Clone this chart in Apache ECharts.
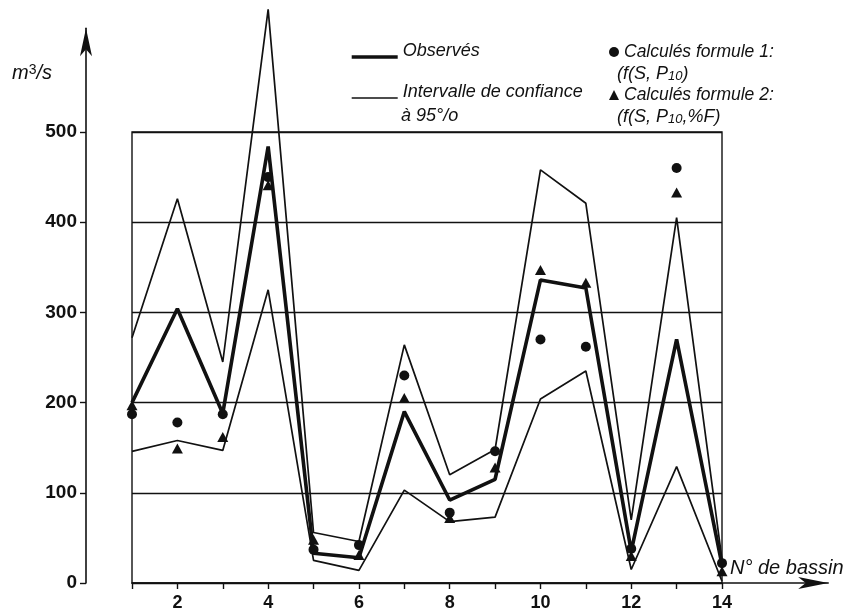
<!DOCTYPE html>
<html>
<head>
<meta charset="utf-8">
<script src="https://cdn.jsdelivr.net/npm/echarts@6.0.0/dist/echarts.min.js"></script>
<style>
  html, body { margin: 0; padding: 0; background: #fff; }
  #chart { width: 850px; height: 612px; }
</style>
</head>
<body>
<div id="chart"></div>
<script>
// Débits par bassin (m3/s)
const basins     = [1, 2, 3, 4, 5, 6, 7, 8, 9, 10, 11, 12, 13, 14];
const observed   = [200, 304, 188, 484, 33, 28, 190, 92, 115, 336, 327, 35, 270, 20];
const upperCI    = [272, 426, 245, 636, 56, 46, 264, 120, 148, 458, 421, 70, 405, 26];
const lowerCI    = [146, 158, 147, 325, 25, 14, 103, 68, 73, 204, 235, 15, 129, 2];
const formula1   = [187, 178, 187, 450, 37, 42, 230, 78, 146, 270, 262, 38, 460, 22];
const formula2   = [197, 149, 162, 441, 48, 31, 205, 72, 128, 347, 333, 30, 433, 13];

const xTickValues  = [1, 2, 3, 4, 5, 6, 7, 8, 9, 10, 11, 12, 13, 14];
const xLabelValues = [2, 4, 6, 8, 10, 12, 14];
const yLabelValues = [0, 100, 200, 300, 400, 500];

const ink = '#111';
const font = "'Liberation Sans', Arial, Helvetica, sans-serif";
const pairs = v => basins.map((b, i) => [b, v[i]]);

// plot frame: x 1..14, y 0..500
const frame = { left: 132, top: 132, width: 590, height: 451 };
// axes with arrows share the same scale but reach further
const pxPerX = frame.width / 13;
const pxPerY = frame.height / 500;
const axesMaxX = 16.34, axesMaxY = 615;
const axesBox = {
  left: frame.left,
  width: pxPerX * (axesMaxX - 1),
  height: pxPerY * axesMaxY,
  top: frame.top + frame.height - pxPerY * axesMaxY
};

const chart = echarts.init(document.getElementById('chart'), null, { renderer: 'canvas' });

const italic = { fontFamily: font, fontStyle: 'italic', fontSize: 18, color: ink, lineHeight: 20 };
const hiddenSymbol = { opacity: 0, color: 'transparent', borderWidth: 0 };

chart.setOption({
  animation: false,
  backgroundColor: '#fff',
  grid: [
    { left: frame.left, top: frame.top, width: frame.width, height: frame.height,
      show: true, borderColor: ink, borderWidth: 1.4, backgroundColor: 'transparent' },
    { left: axesBox.left, top: axesBox.top, width: axesBox.width, height: axesBox.height }
  ],
  xAxis: [
    { gridIndex: 0, type: 'value', min: 1, max: 14,
      axisLine: { show: false }, axisTick: { show: false }, axisLabel: { show: false },
      splitLine: { show: false } },
    { gridIndex: 1, type: 'value', min: 1, max: axesMaxX, interval: 1,
      axisLine: { show: true, symbol: ['none', 'arrow'], symbolSize: [9, 30],
                  lineStyle: { color: ink, width: 1.6 } },
      axisTick: { show: true, length: 6, customValues: xTickValues,
                  lineStyle: { color: ink, width: 1.4 } },
      axisLabel: { show: true, customValues: xLabelValues, margin: 11,
                   fontFamily: font, fontSize: 18, fontWeight: 'bold', color: ink },
      splitLine: { show: false } }
  ],
  yAxis: [
    { gridIndex: 0, type: 'value', min: 0, max: 500, interval: 100,
      axisLine: { show: false }, axisTick: { show: false }, axisLabel: { show: false },
      splitLine: { show: true, lineStyle: { color: ink, width: 1.3 } } },
    { gridIndex: 1, type: 'value', min: 0, max: axesMaxY, interval: 100,
      offset: 46,
      axisLine: { show: true, symbol: ['none', 'arrow'], symbolSize: [9, 28],
                  lineStyle: { color: ink, width: 1.6 } },
      axisTick: { show: true, length: 6, customValues: yLabelValues,
                  lineStyle: { color: ink, width: 1.4 } },
      axisLabel: { show: true, customValues: yLabelValues, margin: 9,
                   fontFamily: font, fontSize: 19, fontWeight: 'bold', color: ink },
      splitLine: { show: false } }
  ],
  legend: [
    { orient: 'vertical', left: 345, top: 37, itemWidth: 46, itemHeight: 14, itemGap: 11,
      selectedMode: false,
      formatter: name => '{t|' + name + '}',
      textStyle: { color: ink, rich: { t: Object.assign({}, italic, { padding: [0, 0, 12, 0] }) } },
      data: [
        { name: 'Observés', lineStyle: { width: 3.4, color: ink }, itemStyle: hiddenSymbol },
        { name: 'Intervalle de confiance', lineStyle: { width: 1.6, color: ink }, itemStyle: hiddenSymbol }
      ] },
    { orient: 'vertical', left: 604, top: 37, itemWidth: 10, itemHeight: 10, itemGap: 23,
      selectedMode: false, textStyle: Object.assign({}, italic, { fontSize: 17.5 }),
      data: [ { name: 'Calculés formule 1:' }, { name: 'Calculés formule 2:' } ] }
  ],
  graphic: [
    { type: 'text', left: 12, top: 63,
      style: { text: '{a|m}{s|3}{a|/s}', fill: ink,
        rich: { a: { fontFamily: font, fontStyle: 'italic', fontSize: 20, color: ink },
                s: { fontFamily: font, fontSize: 14, color: ink, verticalAlign: 'top' } } } },
    { type: 'text', left: 730, top: 558,
      style: { text: 'N° de bassin', font: "italic 20px 'Liberation Sans', Arial, sans-serif", fill: ink } },
    { type: 'text', left: 401, top: 107,
      style: { text: 'à 95°/o', font: "italic 18px 'Liberation Sans', Arial, sans-serif", fill: ink } },
    { type: 'text', left: 617, top: 65,
      style: { text: '{a|(f(S, P}{s|10}{a|)}', fill: ink,
        rich: { a: { fontFamily: font, fontStyle: 'italic', fontSize: 18, color: ink },
                s: { fontFamily: font, fontStyle: 'italic', fontSize: 13, color: ink, verticalAlign: 'bottom' } } } },
    { type: 'text', left: 617, top: 108,
      style: { text: '{a|(f(S, P}{s|10}{a|,%F)}', fill: ink,
        rich: { a: { fontFamily: font, fontStyle: 'italic', fontSize: 18, color: ink },
                s: { fontFamily: font, fontStyle: 'italic', fontSize: 13, color: ink, verticalAlign: 'bottom' } } } }
  ],
  series: [
    { name: 'Intervalle de confiance', type: 'line', xAxisIndex: 0, yAxisIndex: 0,
      data: pairs(upperCI), symbol: 'none', clip: false, z: 3,
      itemStyle: { color: ink }, lineStyle: { color: ink, width: 1.7 } },
    { name: 'Intervalle de confiance', type: 'line', xAxisIndex: 0, yAxisIndex: 0,
      data: pairs(lowerCI), symbol: 'none', clip: false, z: 3,
      itemStyle: { color: ink }, lineStyle: { color: ink, width: 1.7 } },
    { name: 'Observés', type: 'line', xAxisIndex: 0, yAxisIndex: 0,
      data: pairs(observed), symbol: 'none', clip: false, z: 4,
      itemStyle: { color: ink }, lineStyle: { color: ink, width: 3.6 } },
    { name: 'Calculés formule 1:', type: 'scatter', xAxisIndex: 0, yAxisIndex: 0,
      data: pairs(formula1), symbol: 'circle', symbolSize: 10, clip: false, z: 5,
      itemStyle: { color: ink, opacity: 1 } },
    { name: 'Calculés formule 2:', type: 'scatter', xAxisIndex: 0, yAxisIndex: 0,
      data: pairs(formula2), symbol: 'triangle', symbolSize: [11, 10], clip: false, z: 5,
      itemStyle: { color: ink, opacity: 1 } }
  ]
});
</script>
</body>
</html>
